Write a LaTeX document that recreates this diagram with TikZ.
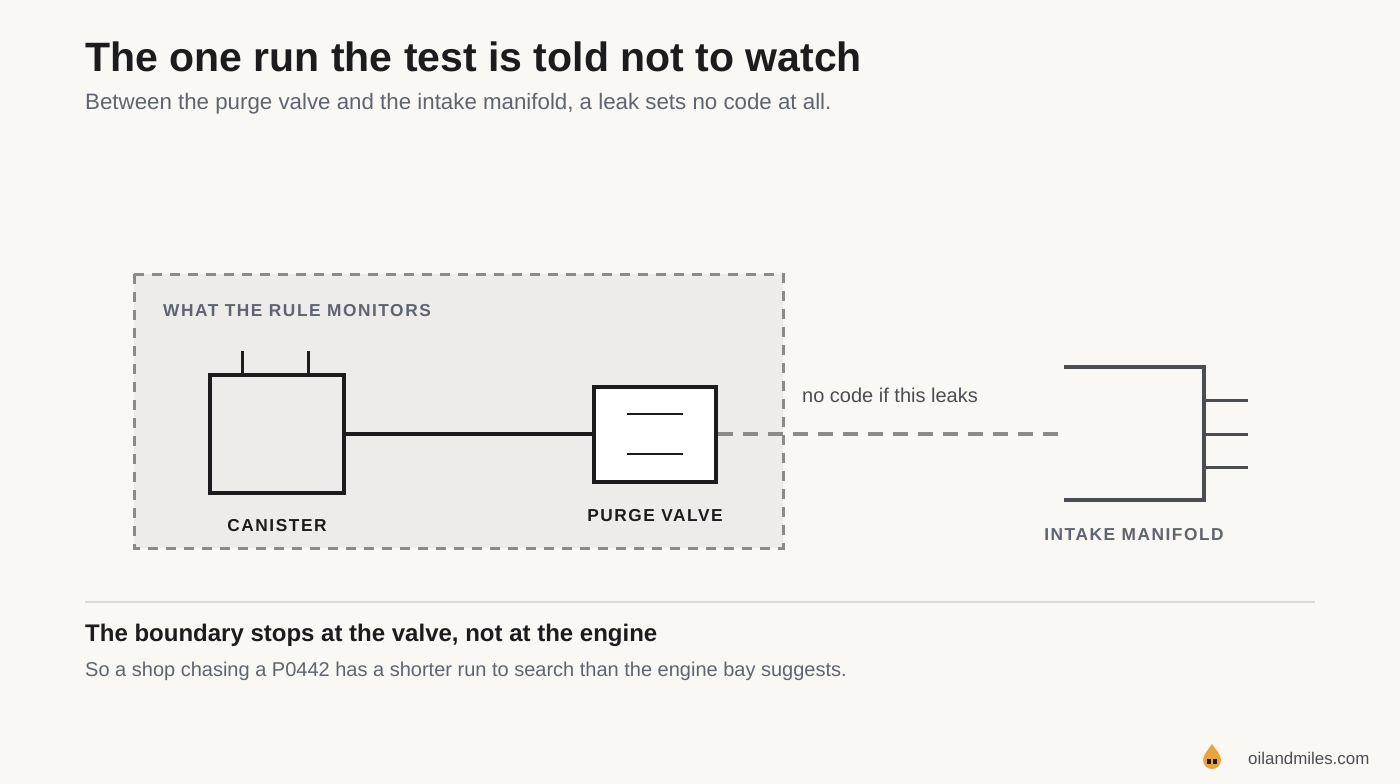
\documentclass[tikz,border=0pt]{standalone}
\usepackage{fontspec}
\setmainfont{Liberation Sans}
\usepackage{tikz}
\usetikzlibrary{positioning, calc, backgrounds}

\definecolor{paper}{HTML}{F9F8F5}
\definecolor{zonefill}{HTML}{EDECEA}
\definecolor{zoneline}{HTML}{8A8A8A}
\definecolor{ink}{HTML}{1C1C1F}
\definecolor{mutedgray}{HTML}{5E6470}
\definecolor{partgray}{HTML}{4B4D55}
\definecolor{rulegray}{HTML}{DCDAD6}
\definecolor{dropgold}{HTML}{E8A53F}

\tikzset{
    partbox/.style={draw=ink, line width=3.6pt, minimum width=134pt, minimum height=118pt, inner sep=0pt},
    valvebox/.style={draw=ink, fill=white, line width=4pt, minimum width=122pt, minimum height=95pt, inner sep=0pt},
    caplabel/.style={font=\fontsize{17.3}{19}\selectfont\bfseries\addfontfeature{LetterSpace=9}, inner sep=0pt},
    leakline/.style={draw=zoneline, line width=4pt, dash pattern=on 15pt off 10pt}
}

\begin{document}
\begin{tikzpicture}[x=1pt, y=-1pt]
    % Canvas in pixel units, 1400 x 784
    \fill[paper] (0,0) rectangle (1400,784);
    \useasboundingbox (0,0) rectangle (1400,784);

    % Title and subtitle
    \node[anchor=base west, inner sep=0pt, text=ink, font=\fontsize{41}{45}\selectfont\bfseries] (title) at (85,71) {The one run the test is told not to watch};
    \node[anchor=base west, inner sep=0pt, text=mutedgray, font=\fontsize{22.3}{26}\selectfont] (subtitle) at (85,110) {Between the purge valve and the intake manifold, a leak sets no code at all.};

    % Monitored zone
    \filldraw[fill=zonefill, draw=zoneline, line width=3pt, dash pattern=on 10pt off 8pt] (134,274) rectangle (783,548);
    \node[caplabel, anchor=base west, text=mutedgray] (zonelabel) at (163,316) {WHAT THE RULE MONITORS};

    % Canister with two tubes on top
    \node[partbox] (canister) at (277,434) {};
    \draw[ink, line width=3.3pt] ($(canister.north west)+(34,0)$) -- ++(0,-22);
    \draw[ink, line width=3.3pt] ($(canister.north west)+(100,0)$) -- ++(0,-22);
    \node[caplabel, anchor=base, text=ink] (canlabel) at (277,531) {CANISTER};

    % Purge valve
    \node[valvebox] (valve) at (655,434) {};
    \draw[ink, line width=2.8pt] ($(valve.center)+(-28,-20)$) -- ++(56,0);
    \draw[ink, line width=2.8pt] ($(valve.center)+(-28,20)$) -- ++(56,0);
    \node[caplabel, anchor=base, text=ink] (valvelabel) at (655,521) {PURGE VALVE};

    % Canister to valve hose
    \draw[ink, line width=4.5pt] (canister.east) -- (valve.west);

    % Unmonitored run to the manifold
    \coordinate (inlet) at (1058,434);
    \draw[leakline] (valve.east) -- (inlet);
    \node[anchor=base west, inner sep=0pt, text=partgray, font=\fontsize{20}{22}\selectfont] (leaknote) at (802,402) {no code if this leaks};

    % Intake manifold
    \coordinate (mtop) at (1064,367);
    \coordinate (mbot) at (1064,500);
    \draw[partgray, line width=3.5pt] (mtop) -- (1204,367) -- (1204,500) -- (mbot);
    \foreach \yy in {400,434,467}
        \draw[partgray, line width=3pt] (1204,\yy) -- (1248,\yy);
    \node[caplabel, anchor=base, text=mutedgray] (manlabel) at (1134,540) {INTAKE MANIFOLD};

    % Divider and takeaway
    \draw[rulegray, line width=1.3pt] (85,602) -- (1315,602);
    \node[anchor=base west, inner sep=0pt, text=ink, font=\fontsize{24}{27}\selectfont\bfseries] (takeaway) at (85,641) {The boundary stops at the valve, not at the engine};
    \node[anchor=base west, inner sep=0pt, text=mutedgray, font=\fontsize{20}{23}\selectfont] (takebody) at (85,676) {So a shop chasing a P0442 has a shorter run to search than the engine bay suggests.};

    % Footer logo
    \fill[dropgold] (1212,744) .. controls (1209,749) and (1203,754) .. (1203,760) arc (180:0:9) .. controls (1221,754) and (1215,749) .. (1212,744) -- cycle;
    \fill[ink] (1207.3,759) rectangle (1211.3,763.5);
    \fill[ink] (1212.7,759) rectangle (1216.7,763.5);
    \node[anchor=base west, inner sep=0pt, text=partgray, font=\fontsize{16.9}{19}\selectfont] (site) at (1248,764) {oilandmiles.com};
\end{tikzpicture}
\end{document}
